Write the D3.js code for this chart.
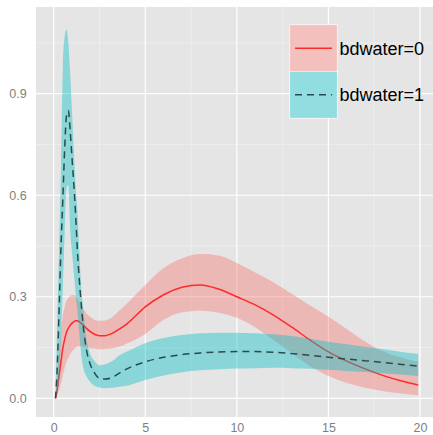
<!DOCTYPE html>
<html>
<head>
<meta charset="utf-8">
<script src="https://cdn.jsdelivr.net/npm/d3@7"></script>
<style>
  body { margin: 0; background: #fff; }
  svg { display: block; font-family: "Liberation Sans", Arial, sans-serif; }
</style>
</head>
<body>
<svg id="chart" width="433" height="435"></svg>
<script>
// time grid shared by both groups
let times = [0.1, 0.2, 0.3, 0.4, 0.5, 0.6, 0.7, 0.8, 0.9, 1.0, 1.1, 1.2, 1.3, 1.4, 1.5, 1.6, 1.8, 2.0, 2.2, 2.5,
             2.8, 3.2, 3.6, 4, 5, 6, 7, 8, 9, 10, 11, 12, 13, 14, 15, 16, 17, 18, 19, 19.9]

// bdwater=0
let fit0 = [0, 0.03, 0.07, 0.11, 0.148, 0.175, 0.195, 0.207, 0.216, 0.222, 0.226, 0.229, 0.229, 0.226, 0.222, 0.217, 0.206, 0.197, 0.19, 0.185,
            0.185, 0.192, 0.205, 0.22, 0.27, 0.306, 0.328, 0.335, 0.323, 0.3, 0.276, 0.246, 0.21, 0.172, 0.137, 0.11, 0.087, 0.067, 0.051, 0.039]
let lo0 = [0, 0.01, 0.025, 0.045, 0.068, 0.09, 0.108, 0.12, 0.13, 0.138, 0.145, 0.15, 0.153, 0.154, 0.154, 0.152, 0.15, 0.148, 0.147, 0.145,
           0.146, 0.148, 0.153, 0.162, 0.19, 0.232, 0.254, 0.259, 0.253, 0.238, 0.21, 0.172, 0.133, 0.095, 0.066, 0.045, 0.031, 0.021, 0.014, 0.009]
let hi0 = [0, 0.07, 0.14, 0.2, 0.245, 0.27, 0.288, 0.297, 0.302, 0.305, 0.305, 0.302, 0.295, 0.285, 0.275, 0.265, 0.25, 0.24, 0.233, 0.229,
           0.23, 0.24, 0.26, 0.28, 0.335, 0.385, 0.413, 0.426, 0.422, 0.4, 0.372, 0.343, 0.309, 0.274, 0.241, 0.205, 0.168, 0.138, 0.12, 0.108]

// bdwater=1
let fit1 = [0, 0.10, 0.27, 0.45, 0.59, 0.74, 0.835, 0.85, 0.79, 0.71, 0.63, 0.54, 0.43, 0.35, 0.28, 0.22, 0.14, 0.10, 0.077, 0.059,
            0.057, 0.062, 0.075, 0.087, 0.108, 0.121, 0.129, 0.134, 0.137, 0.138, 0.138, 0.136, 0.132, 0.127, 0.121, 0.116, 0.111, 0.106, 0.100, 0.095]
let lo1 = [0, 0.02, 0.065, 0.18, 0.33, 0.49, 0.62, 0.63, 0.50, 0.43, 0.37, 0.31, 0.255, 0.19, 0.13, 0.095, 0.064, 0.048, 0.038, 0.032,
           0.03, 0.031, 0.034, 0.037, 0.054, 0.067, 0.077, 0.083, 0.086, 0.088, 0.089, 0.09, 0.089, 0.087, 0.084, 0.081, 0.078, 0.074, 0.07, 0.066]
let hi1 = [0, 0.24, 0.45, 0.69, 0.98, 1.07, 1.089, 1.05, 0.96, 0.845, 0.73, 0.626, 0.55, 0.435, 0.33, 0.27, 0.172, 0.13, 0.112, 0.098,
           0.1, 0.11, 0.127, 0.138, 0.163, 0.178, 0.187, 0.192, 0.194, 0.194, 0.192, 0.189, 0.184, 0.176, 0.167, 0.16, 0.152, 0.145, 0.137, 0.131]

let groupNames = ["bdwater=0", "bdwater=1"]
let xTicks = [0, 5, 10, 15, 20]
let yTicks = [0, 0.3, 0.6, 0.9]
let xMinor = [2.5, 7.5, 12.5, 17.5]
let yMinor = [0.15, 0.45, 0.75, 1.05]

let groups = [
    { name: groupNames[0], fit: fit0, lo: lo0, hi: hi0, fill: "#F8766D", line: "#FF2A2A", dash: null },
    { name: groupNames[1], fit: fit1, lo: lo1, hi: hi1, fill: "#00BFC4", line: "#2A4B4B", dash: "7,5" }
]

let panel = { left: 36, top: 7, right: 437, bottom: 417 }

let x = d3.scaleLinear().domain([0, 20]).range([53.7, 420])
let y = d3.scaleLinear().domain([0, 0.9]).range([398.3, 93.7])

let svg = d3.select("#chart")

svg.append("rect")
    .attr("x", panel.left).attr("y", panel.top)
    .attr("width", panel.right - panel.left).attr("height", panel.bottom - panel.top)
    .attr("fill", "#E5E5E5")

// grid
let grid = svg.append("g")
grid.selectAll(".vminor").data(xMinor).enter().append("line")
    .attr("x1", d => x(d)).attr("x2", d => x(d)).attr("y1", panel.top).attr("y2", panel.bottom)
    .attr("stroke", "#F3F3F3").attr("stroke-width", 0.6)
grid.selectAll(".hminor").data(yMinor).enter().append("line")
    .attr("y1", d => y(d)).attr("y2", d => y(d)).attr("x1", panel.left).attr("x2", panel.right)
    .attr("stroke", "#F3F3F3").attr("stroke-width", 0.6)
grid.selectAll(".vmajor").data(xTicks).enter().append("line")
    .attr("x1", d => x(d)).attr("x2", d => x(d)).attr("y1", panel.top).attr("y2", panel.bottom)
    .attr("stroke", "#fff").attr("stroke-width", 1.2)
grid.selectAll(".hmajor").data(yTicks).enter().append("line")
    .attr("y1", d => y(d)).attr("y2", d => y(d)).attr("x1", panel.left).attr("x2", panel.right)
    .attr("stroke", "#fff").attr("stroke-width", 1.2)

let area = d3.area()
    .x((d, i) => x(times[i]))
    .y0(d => y(d[0]))
    .y1(d => y(d[1]))
    .curve(d3.curveMonotoneX)

let line = d3.line()
    .x((d, i) => x(times[i]))
    .y(d => y(d))
    .curve(d3.curveMonotoneX)

// ribbon then line, group by group
groups.forEach(g => {
    let band = g.lo.map((v, i) => [v, g.hi[i]])
    svg.append("path")
        .attr("d", area(band))
        .attr("fill", g.fill)
        .attr("fill-opacity", 0.4)
    svg.append("path")
        .attr("d", line(g.fit))
        .attr("fill", "none")
        .attr("stroke", g.line)
        .attr("stroke-width", 1.5)
        .attr("stroke-dasharray", g.dash)
})

// axes
let xAxis = svg.append("g")
    .attr("transform", "translate(0," + panel.bottom + ")")
    .call(d3.axisBottom(x).tickValues(xTicks).tickSize(0).tickPadding(6))
let yAxis = svg.append("g")
    .attr("transform", "translate(" + panel.left + ",0)")
    .call(d3.axisLeft(y).tickValues(yTicks).tickFormat(d3.format(".1f")).tickSize(0).tickPadding(9.3))
;[xAxis, yAxis].forEach(a => {
    a.select(".domain").remove()
    a.selectAll("text").attr("fill", "#7F7F7F").style("font-size", "12.5px").style("font-family", "'Liberation Sans', Arial, sans-serif")
})

// legend
let keyW = 47, keyH = 46.5
let legend = svg.append("g").attr("transform", "translate(290,25)")
let items = legend.selectAll(".item").data(groups).enter().append("g")
    .attr("transform", (d, i) => "translate(0," + i * keyH + ")")
items.append("rect")
    .attr("width", keyW).attr("height", keyH)
    .attr("fill", "#F2F2F2").attr("stroke", "#fff").attr("stroke-width", 1)
items.append("rect")
    .attr("width", keyW).attr("height", keyH)
    .attr("fill", d => d.fill).attr("fill-opacity", 0.4)
items.append("line")
    .attr("x1", 5).attr("x2", 42).attr("y1", keyH / 2).attr("y2", keyH / 2)
    .attr("stroke", d => d.line).attr("stroke-width", 1.5)
    .attr("stroke-dasharray", d => d.dash)
items.append("text")
    .attr("x", keyW + 2.5).attr("y", keyH / 2).attr("dy", "0.36em")
    .style("font-size", "18px").attr("fill", "#000")
    .text(d => d.name)
</script>
</body>
</html>
